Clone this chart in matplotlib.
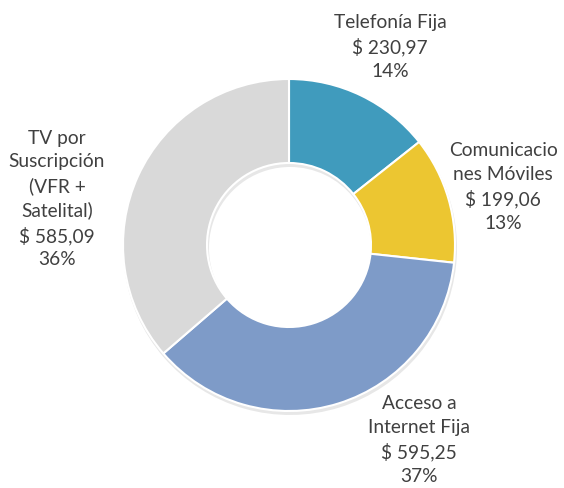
import matplotlib

matplotlib.use("Agg")
import matplotlib.pyplot as plt  # noqa: E402

categories = ["Telefonía Fija", "Comunicacio\nnes Móviles",
              "Acceso a\nInternet Fija", "TV por\nSuscripción\n(VFR +\nSatelital)"]
values = [230.97, 199.06, 595.25, 585.09]
value_labels = ["$ 230,97", "$ 199,06", "$ 595,25", "$ 585,09"]
pct_labels = ["14%", "13%", "37%", "36%"]
colors = ["#409BBD", "#ECC631", "#7E9BC8", "#D9D9D9"]

# label centres in pixel coords (x, y from top)
label_pos = [(390, 47), (503, 187), (419, 440), (57, 199)]

W, H = 564, 488
CX, CY = 289, 245
R_OUT, R_IN = 166, 82

fig = plt.figure(figsize=(W / 100, H / 100), dpi=100)
ax = fig.add_axes([0, 0, 1, 1])

# faint drop shadow under the ring
ax.pie(values, radius=R_OUT + 1, center=(CX + 1, H - CY - 3), startangle=90,
       counterclock=False, colors=["#00000018"] * 4,
       wedgeprops=dict(width=R_OUT - R_IN + 2, linewidth=0), frame=True)
ax.pie(values, radius=R_OUT, center=(CX, H - CY), startangle=90,
       counterclock=False, colors=colors,
       wedgeprops=dict(width=R_OUT - R_IN, edgecolor="white", linewidth=1.5),
       frame=True)
ax.set_xlim(0, W)
ax.set_ylim(0, H)
ax.set_aspect("equal")
ax.axis("off")

for name, val, pct, (x, y) in zip(categories, value_labels, pct_labels, label_pos):
    ax.text(x, H - y, f"{name}\n{val}\n{pct}", ha="center", va="center",
            fontsize=13.8, family="Lato", color="#404040", linespacing=1.45)

fig.savefig("out.png", dpi=100)
